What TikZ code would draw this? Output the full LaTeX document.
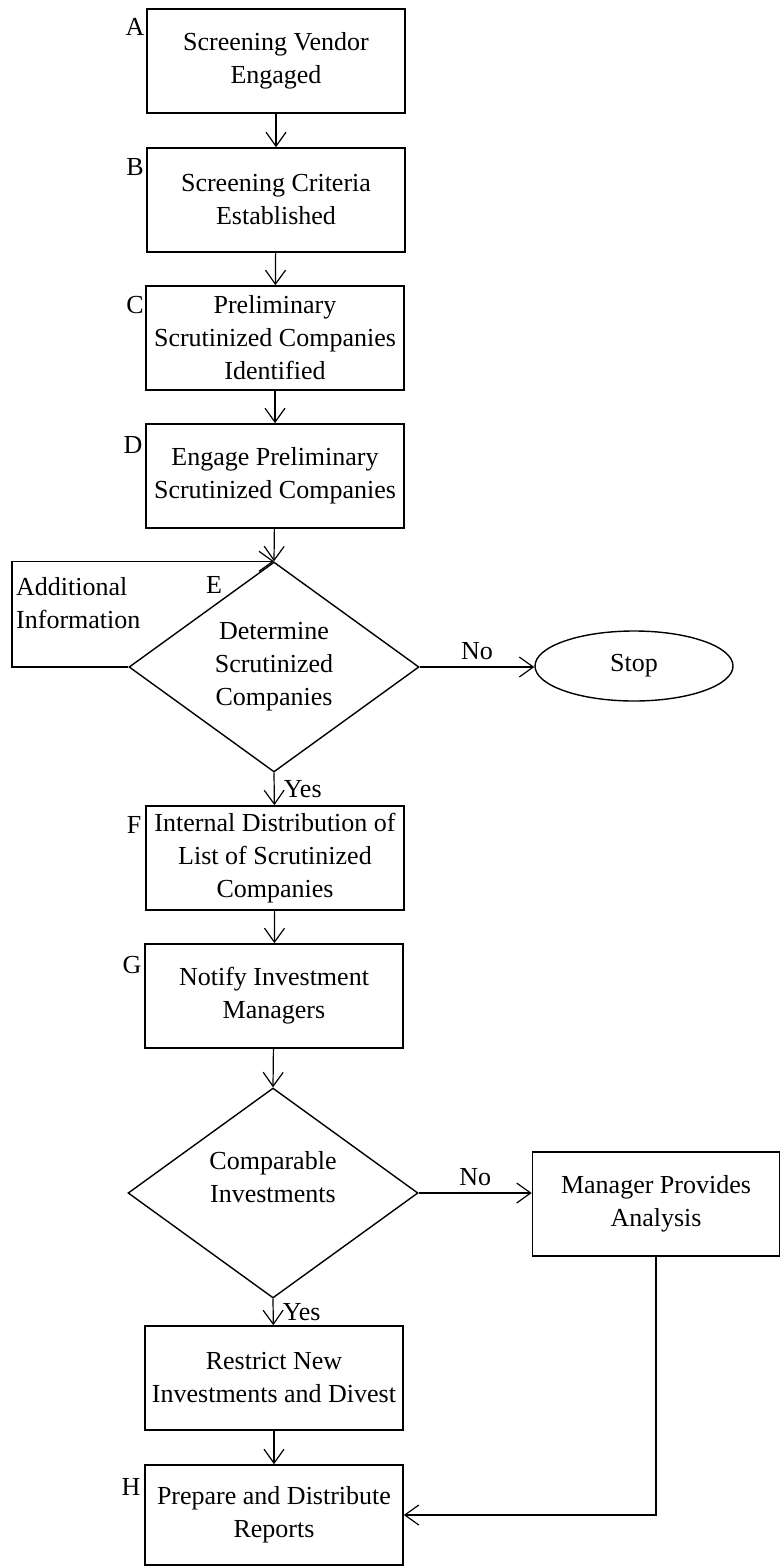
\documentclass[tikz,border=0pt]{standalone}
\usepackage{fontspec}
\setmainfont{Liberation Serif}
\usetikzlibrary{arrows.meta, shapes.geometric}

\begin{document}
\begin{tikzpicture}[x=1pt, y=-1pt,
  font=\fontsize{26}{33}\selectfont,
  box/.style={draw, line width=1.6pt, minimum width=258pt, minimum height=104pt, align=center, inner sep=2pt},
  decision/.style={draw, diamond, line width=1.4pt, minimum width=290pt, minimum height=210pt, aspect=1.38, align=center, inner sep=0pt},
  terminal/.style={draw, ellipse, line width=1.4pt, minimum width=198pt, minimum height=70pt},
  tag/.style={inner sep=0pt},
  flow/.style={line width=1.2pt, -{Straight Barb[length=14pt,width=20pt]}}]
  \useasboundingbox (0,0) rectangle (781,1568);

  % main column
  \node[box] (vendor) at (276,61) {Screening Vendor\\Engaged};
  \node[box] (criteria) at (276,200) {Screening Criteria\\Established};
  \node[box] (prelim) at (275,338) {Preliminary\\Scrutinized Companies\\Identified};
  \node[box] (engage) at (275,476) {Engage Preliminary\\Scrutinized Companies};
  \node[decision] (determine) at (274,667) {Determine\\Scrutinized\\Companies};
  \node[terminal] (stop) at (634,666) {Stop};
  \node[box] (internal) at (275,858) {Internal Distribution of\\List of Scrutinized\\Companies};
  \node[box] (notify) at (274,996) {Notify Investment\\Managers};
  \node[decision] (compare) at (273,1193) {Comparable\\Investments\\\mbox{}};
  \node[box, minimum width=247pt] (manager) at (656,1204) {Manager Provides\\Analysis};
  \node[box] (restrict) at (274,1378) {Restrict New\\Investments and Divest};
  \node[box, minimum height=100pt] (reports) at (274,1515) {Prepare and Distribute\\Reports};

  % step letters
  \node[tag] at (135,27) {A};
  \node[tag] at (135,167) {B};
  \node[tag] at (135,305) {C};
  \node[tag] at (133,445) {D};
  \node[tag] at (214,585) {E};
  \node[tag] at (134,825) {F};
  \node[tag] at (132,965) {G};
  \node[tag] at (131,1487) {H};

  \node[tag, anchor=west, align=left] (addinfo) at (16,603) {Additional\\Information};
  \coordinate (loop) at (12,667);

  % connectors
  \draw[flow] (vendor) -- (criteria);
  \draw[flow] (criteria) -- (prelim);
  \draw[flow] (prelim) -- (engage);
  \draw[flow] (engage) -- (determine.north);
  \draw[flow] (determine.west) -- (loop) |- (determine.north);
  \draw[flow] (determine.east) -- node[tag, above=7pt] {No} (determine.east -| stop.west);
  \draw[flow] (determine.south) -- node[tag, right=9pt] {Yes} (internal);
  \draw[flow] (internal) -- (notify);
  \draw[flow] (notify) -- (compare.north);
  \draw[flow] (compare.east) -- node[tag, above=7pt] {No} (compare.east -| manager.west);
  \draw[flow] (compare.south) -- node[tag, right=9pt] {Yes} (restrict);
  \draw[flow] (restrict) -- (reports);
  \draw[flow] (manager.south) |- (reports.east);
\end{tikzpicture}
\end{document}
